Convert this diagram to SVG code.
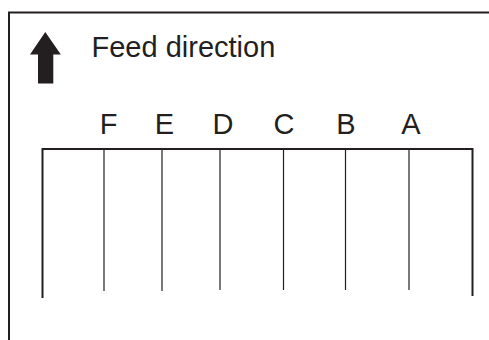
<svg xmlns="http://www.w3.org/2000/svg" width="489" height="340" viewBox="0 0 489 340">
<style>
.t{font-family:"Liberation Sans",Arial,sans-serif;font-size:29px;fill:#231f20}
.l{text-anchor:middle}
.thick{stroke:#231f20;stroke-width:2;fill:none}
.thin{stroke:#231f20;stroke-width:1.2;fill:none}
</style>
<rect width="489" height="340" fill="#fff"/>
<g id="frame">
<path class="thick" d="M9 340 V12.5 H489"/>
</g>
<g id="feed">
<polygon points="45.3,32 30,54.5 38,54.5 38,83.5 53.3,83.5 53.3,54.5 60.8,54.5" fill="#231f20"/>
<text class="t" x="91.5" y="57.3">Feed direction</text>
</g>
<g id="box">
<path class="thick" d="M42.5 298 V149 H472.5 V296"/>
</g>
<g id="connectors">
<line class="thin" x1="104" y1="149" x2="104" y2="291"/>
<line class="thin" x1="162" y1="149" x2="162" y2="291"/>
<line class="thin" x1="220" y1="149" x2="220" y2="290"/>
<line class="thin" x1="283.5" y1="149" x2="283.5" y2="290"/>
<line class="thin" x1="345.5" y1="149" x2="345.5" y2="290"/>
<line class="thin" x1="409" y1="149" x2="409" y2="290"/>
</g>
<g id="labels">
<text class="t l" x="108.5" y="134">F</text>
<text class="t l" x="164.5" y="134">E</text>
<text class="t l" x="223" y="134">D</text>
<text class="t l" x="284" y="134">C</text>
<text class="t l" x="346" y="134">B</text>
<text class="t l" x="411" y="134">A</text>
</g>
</svg>
